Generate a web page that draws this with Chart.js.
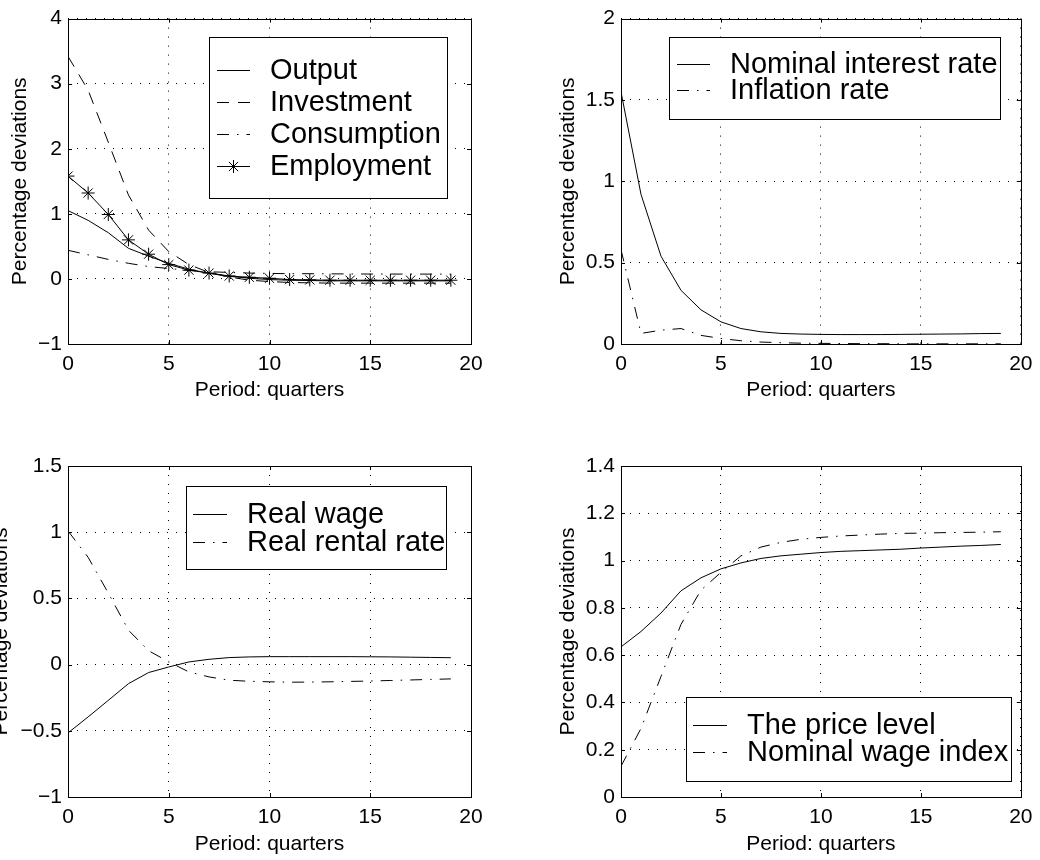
<!DOCTYPE html>
<html>
<head>
<meta charset="utf-8">
<script src="https://cdn.jsdelivr.net/npm/chart.js@4"></script>
<style>
    html, body { margin: 0; padding: 0; background: #fff; }
    #wrap { position: relative; width: 1040px; height: 860px; overflow: hidden; }
    #wrap canvas { position: absolute; }
</style>
</head>
<body>
<div id="wrap">
    <canvas id="c1" width="520" height="430" style="left:0;top:0"></canvas>
    <canvas id="c2" width="520" height="430" style="left:520px;top:0"></canvas>
    <canvas id="c3" width="520" height="430" style="left:0;top:430px"></canvas>
    <canvas id="c4" width="520" height="430" style="left:520px;top:430px"></canvas>
</div>
<script>
// quarters after the shock
const periods = [0, 1, 2, 3, 4, 5, 6, 7, 8, 9, 10, 11, 12, 13, 14, 15, 16, 17, 18, 19];
const xTicks = [0, 5, 10, 15, 20];

// panel 1
const output = [1.05, 0.90, 0.71, 0.47, 0.35, 0.24, 0.15, 0.085, 0.04, 0.01, -0.01, -0.02, -0.025, -0.03, -0.03, -0.03, -0.03, -0.03, -0.03, -0.03];
const investment = [3.42, 2.90, 2.10, 1.29, 0.75, 0.42, 0.22, 0.10, 0.03, -0.02, -0.04, -0.055, -0.06, -0.065, -0.065, -0.065, -0.065, -0.065, -0.065, -0.065];
const consumption = [0.44, 0.37, 0.30, 0.24, 0.19, 0.16, 0.13, 0.11, 0.10, 0.09, 0.085, 0.08, 0.08, 0.078, 0.076, 0.075, 0.075, 0.074, 0.074, 0.073];
const employment = [1.58, 1.32, 0.99, 0.60, 0.38, 0.22, 0.135, 0.09, 0.045, 0.025, 0.01, -0.01, -0.015, -0.02, -0.02, -0.02, -0.02, -0.02, -0.02, -0.02];

// panel 2
const nominalRate = [1.55, 0.92, 0.54, 0.33, 0.21, 0.136, 0.095, 0.075, 0.065, 0.061, 0.059, 0.058, 0.058, 0.058, 0.059, 0.06, 0.061, 0.062, 0.064, 0.065];
const inflationRate = [0.58, 0.065, 0.085, 0.095, 0.053, 0.034, 0.02, 0.012, 0.008, 0.005, 0.004, 0.003, 0.002, 0.002, 0.001, 0.001, 0.001, 0.001, 0.001, 0.001];

// panel 3
const realWage = [-0.516, -0.395, -0.27, -0.144, -0.06, -0.018, 0.02, 0.04, 0.053, 0.058, 0.06, 0.06, 0.06, 0.06, 0.06, 0.059, 0.058, 0.056, 0.054, 0.052];
const rentalRate = [1.01, 0.81, 0.54, 0.26, 0.105, 0.02, -0.055, -0.093, -0.118, -0.126, -0.13, -0.133, -0.132, -0.13, -0.127, -0.124, -0.12, -0.116, -0.112, -0.108];

// panel 4
const priceLevel = [0.635, 0.70, 0.778, 0.872, 0.927, 0.965, 0.99, 1.009, 1.02, 1.027, 1.034, 1.039, 1.042, 1.045, 1.048, 1.053, 1.057, 1.061, 1.064, 1.068];
const wageIndex = [0.13, 0.29, 0.51, 0.73, 0.875, 0.95, 1.02, 1.057, 1.077, 1.09, 1.098, 1.104, 1.108, 1.112, 1.115, 1.116, 1.118, 1.119, 1.12, 1.122];

const FONT = "'Liberation Sans', Arial, Helvetica, sans-serif";
Chart.defaults.font.family = FONT;
Chart.defaults.color = '#000';

const DASHED = [12, 9];
const DASH_DOT = [12, 8, 1.5, 8];

function series(label, values, dash, marker) {
    return {
        label,
        data: periods.map((p, i) => ({ x: p, y: values[i] })),
        borderColor: '#000',
        borderWidth: 1,
        borderDash: dash || [],
        pointStyle: marker ? 'star' : false,
        pointRadius: marker ? 6.5 : 0,
        pointBorderWidth: 1,
        pointBorderColor: '#000',
        tension: 0,
        fill: false,
    };
}

// box around the plot with small inward ticks on all four sides
const framePlugin = {
    id: 'frame',
    afterDatasetsDraw(chart) {
        const { ctx, chartArea: a, scales } = chart;
        ctx.save();
        ctx.strokeStyle = '#000';
        ctx.lineWidth = 1;
        ctx.setLineDash([]);
        ctx.beginPath();
        scales.x.ticks.forEach((t) => {
            const px = Math.round(scales.x.getPixelForValue(t.value)) + 0.5;
            ctx.moveTo(px, a.bottom); ctx.lineTo(px, a.bottom - 4);
            ctx.moveTo(px, a.top); ctx.lineTo(px, a.top + 4);
        });
        scales.y.ticks.forEach((t) => {
            const py = Math.round(scales.y.getPixelForValue(t.value)) + 0.5;
            ctx.moveTo(a.left, py); ctx.lineTo(a.left + 4, py);
            ctx.moveTo(a.right, py); ctx.lineTo(a.right - 4, py);
        });
        ctx.stroke();
        ctx.strokeRect(Math.round(a.left) + 0.5, Math.round(a.top) + 0.5,
            Math.round(a.right - a.left), Math.round(a.bottom - a.top));
        ctx.restore();
    }
};

// MATLAB style legend box inside the axes
const boxLegend = {
    id: 'boxLegend',
    afterDraw(chart, args, o) {
        const { ctx, chartArea: a } = chart;
        const bx = Math.round(a.left + o.x) + 0.5;
        const by = Math.round(a.top + o.y) + 0.5;
        ctx.save();
        ctx.fillStyle = '#fff';
        ctx.fillRect(bx, by, o.w, o.h);
        ctx.strokeStyle = '#000';
        ctx.lineWidth = 1;
        ctx.strokeRect(bx, by, o.w, o.h);
        ctx.font = `29px ${FONT}`;
        ctx.textBaseline = 'middle';
        ctx.textAlign = 'left';
        chart.data.datasets.forEach((ds, i) => {
            const ry = Math.round(a.top + o.row0 + i * o.pitch) + 0.5;
            ctx.strokeStyle = '#000';
            ctx.lineWidth = 1;
            ctx.setLineDash(ds.borderDash || []);
            ctx.beginPath();
            ctx.moveTo(a.left + o.s0, ry);
            ctx.lineTo(a.left + o.s1, ry);
            ctx.stroke();
            ctx.setLineDash([]);
            if (ds.pointRadius) {
                const cx = a.left + (o.s0 + o.s1) / 2;
                ctx.fillStyle = 'rgba(0,0,0,0)';
                Chart.helpers.drawPoint(ctx, { pointStyle: ds.pointStyle, radius: ds.pointRadius, borderWidth: 1, rotation: 0 }, cx, ry);
            }
            ctx.fillStyle = '#000';
            ctx.fillText(ds.label, a.left + o.tx, ry);
        });
        ctx.restore();
    }
};

function makePanel(canvasId, panel) {
    const canvas = document.getElementById(canvasId);
    const W = canvas.width, H = canvas.height;
    const area = panel.area;
    // grid lines take their dash from border.dash in v4
    const dotted = { color: '#000', lineWidth: 1, drawTicks: false };
    const noBorder = { display: false, dash: [1, 8] };

    return new Chart(canvas.getContext('2d'), {
        type: 'line',
        data: { datasets: panel.datasets },
        plugins: [framePlugin, boxLegend],
        options: {
            responsive: false,
            devicePixelRatio: 1,
            animation: false,
            events: [],
            layout: { padding: { left: 0, top: area.t, right: W - area.r, bottom: 0 } },
            plugins: {
                legend: { display: false },
                tooltip: { enabled: false },
                boxLegend: panel.legend,
            },
            scales: {
                x: {
                    type: 'linear',
                    min: 0,
                    max: 20,
                    afterFit: (s) => { s.height = H - area.b; },
                    afterBuildTicks: (s) => { s.ticks = xTicks.map((v) => ({ value: v })); },
                    grid: dotted,
                    border: noBorder,
                    ticks: { font: { size: 21 }, padding: 7.5, maxRotation: 0, callback: (v) => String(v) },
                    title: {
                        display: true,
                        text: 'Period: quarters',
                        font: { size: 21 },
                        padding: { top: 0, bottom: panel.xTitlePad },
                    },
                },
                y: {
                    type: 'linear',
                    min: panel.yMin,
                    max: panel.yMax,
                    afterFit: (s) => { s.width = area.l; },
                    afterBuildTicks: (s) => { s.ticks = panel.yTicks.map((v) => ({ value: v })); },
                    grid: dotted,
                    border: noBorder,
                    ticks: {
                        font: { size: 21 },
                        padding: 6,
                        callback: (v) => String(Math.round(v * 10) / 10).replace('-', '\u2212'),
                    },
                    title: {
                        display: true,
                        text: 'Percentage deviations',
                        font: { size: 21 },
                        padding: { top: panel.yTitlePad, bottom: 0 },
                    },
                },
            },
        },
    });
}

const panels = [
    {
        id: 'c1',
        area: { l: 68, t: 15, r: 471, b: 344 },
        yMin: -1, yMax: 4, yTicks: [-1, 0, 1, 2, 3, 4],
        xTitlePad: 27, yTitlePad: 7.4,
        legend: { x: 141, y: 18, w: 238, h: 161, s0: 149, s1: 182, tx: 202, row0: 51, pitch: 32.2 },
        datasets: [
            series('Output', output),
            series('Investment', investment, DASHED),
            series('Consumption', consumption, DASH_DOT),
            series('Employment', employment, null, true),
        ],
    },
    {
        id: 'c2',
        area: { l: 101, t: 15, r: 504, b: 344 },
        yMin: 0, yMax: 2, yTicks: [0, 0.5, 1, 1.5, 2],
        xTitlePad: 27, yTitlePad: 35.4,
        legend: { x: 48, y: 18, w: 331, h: 82, s0: 56, s1: 89, tx: 109, row0: 45, pitch: 26.7 },
        datasets: [
            series('Nominal interest rate', nominalRate),
            series('Inflation rate', inflationRate, DASH_DOT),
        ],
    },
    {
        id: 'c3',
        area: { l: 68, t: 36, r: 471, b: 367 },
        yMin: -1, yMax: 1.5, yTicks: [-1, -0.5, 0, 0.5, 1, 1.5],
        xTitlePad: 3, yTitlePad: -11.6,
        legend: { x: 118, y: 20, w: 260, h: 83, s0: 125, s1: 159, tx: 179, row0: 48, pitch: 27.7 },
        datasets: [
            series('Real wage', realWage),
            series('Real rental rate', rentalRate, DASH_DOT),
        ],
    },
    {
        id: 'c4',
        area: { l: 101, t: 36, r: 504, b: 367 },
        yMin: 0, yMax: 1.4, yTicks: [0, 0.2, 0.4, 0.6, 0.8, 1, 1.2, 1.4],
        xTitlePad: 3, yTitlePad: 35.4,
        legend: { x: 65, y: 231, w: 325, h: 84, s0: 72, s1: 106, tx: 126, row0: 259, pitch: 27.3 },
        datasets: [
            series('The price level', priceLevel),
            series('Nominal wage index', wageIndex, DASH_DOT),
        ],
    },
];

panels.forEach((p) => makePanel(p.id, p));
</script>
</body>
</html>
